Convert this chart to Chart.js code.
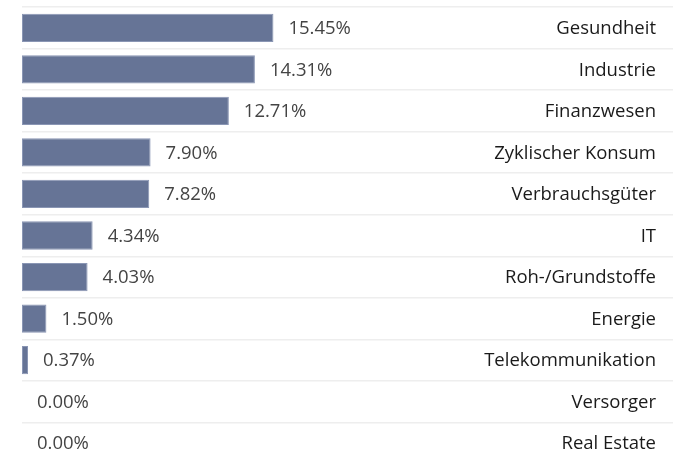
<!DOCTYPE html>
<html>
<head>
<meta charset="utf-8">
<script src="https://cdn.jsdelivr.net/npm/chart.js@4/dist/chart.umd.min.js"></script>
<style>
  html, body { margin: 0; padding: 0; background: #fff; overflow: hidden; }
  #wrap { width: 681px; height: 464px; position: relative; }
</style>
</head>
<body>
<div id="wrap"><canvas id="chart"></canvas></div>
<script>
const sectors = [
  'Gesundheit', 'Industrie', 'Finanzwesen', 'Zyklischer Konsum', 'Verbrauchsgüter',
  'IT', 'Roh-/Grundstoffe', 'Energie', 'Telekommunikation', 'Versorger', 'Real Estate',
];
const weights = [15.45, 14.31, 12.71, 7.90, 7.82, 4.34, 4.03, 1.50, 0.37, 0.00, 0.00];

const FONT = '"Open Sans", "Liberation Sans", sans-serif';

// value label next to each bar, sector name right-aligned at the edge
const labelPlugin = {
  id: 'rowLabels',
  afterDatasetsDraw(chart) {
    const { ctx, chartArea, scales } = chart;
    const x = scales.x, y = scales.y;
    ctx.save();
    ctx.font = '18.5px ' + FONT;
    ctx.textBaseline = 'middle';
    weights.forEach((v, i) => {
      const py = y.getPixelForValue(i) + 1;
      ctx.fillStyle = '#444';
      ctx.textAlign = 'left';
      ctx.fillText(v.toFixed(2) + '%', x.getPixelForValue(v) + 15, py);
      ctx.fillStyle = '#1a1a1a';
      ctx.textAlign = 'right';
      ctx.fillText(sectors[i], chartArea.right - 17, py);
    });
    ctx.restore();
  },
};

new Chart(document.getElementById('chart'), {
  type: 'bar',
  data: {
    labels: sectors,
    datasets: [{
      data: weights,
      backgroundColor: '#667496',
      borderColor: '#8a96b4',
      borderWidth: 1,
      borderSkipped: false,
      categoryPercentage: 0.68,
      barPercentage: 1,
    }],
  },
  options: {
    indexAxis: 'y',
    responsive: true,
    maintainAspectRatio: false,
    animation: false,
    layout: { padding: { left: 22, right: 8, top: 7, bottom: 0 } },
    plugins: { legend: { display: false }, tooltip: { enabled: false } },
    scales: {
      x: { display: false, min: 0, max: 40 },
      y: {
        afterFit: (s) => { s.width = 0; },
        border: { display: false },
        ticks: { display: false },
        grid: { offset: true, color: '#eeeeee', lineWidth: 1.5, drawTicks: false },
      },
    },
  },
  plugins: [labelPlugin],
});
</script>
</body>
</html>
